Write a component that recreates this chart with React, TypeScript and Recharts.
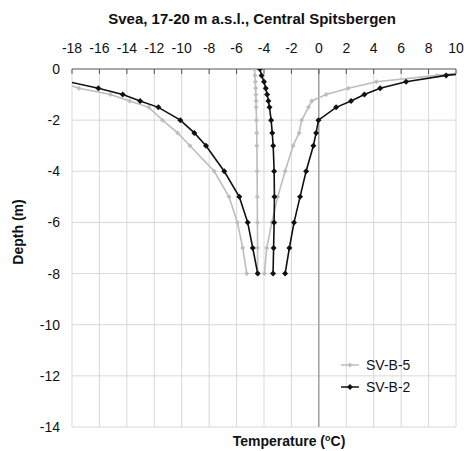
import { ScatterChart, Scatter, XAxis, YAxis, CartesianGrid, ReferenceLine } from "recharts";

// depth below surface (m), shared by every curve
const depths = [0, -0.25, -0.5, -0.75, -1, -1.25, -1.5, -2, -2.5, -3, -4, -5, -6, -7, -8];

// SV-B-5 (grey): min / mean / max ground temperature
const svb5Min = [null, null, -18.9, -17.5, -15.2, -13.8, -12.4, -11.4, -10.3, -9.4, -7.63, -6.55, -5.94, -5.55, -5.26];
const svb5Mean = [-4.7, -4.66, -4.63, -4.61, -4.59, -4.58, -4.57, -4.55, -4.53, -4.52, -4.5, -4.49, -4.48, -4.47, -4.47];
const svb5Max = [13, 8.6, 4.2, 2.15, 0.53, -0.52, -0.76, -1.25, -1.44, -1.88, -2.46, -3.0, -3.43, -3.8, -3.97];

// SV-B-2 (black)
const svb2Min = [null, null, -18.25, -16.08, -14.3, -13.03, -11.7, -10.1, -9.08, -8.23, -6.9, -5.8, -5.19, -4.82, -4.46];
const svb2Mean = [-4.3, -4.18, -4.0, -3.87, -3.77, -3.68, -3.6, -3.48, -3.4, -3.33, -3.26, -3.24, -3.26, -3.3, -3.34];
const svb2Max = [14, 9.28, 6.36, 4.47, 3.32, 2.35, 1.26, -0.03, -0.2, -0.4, -0.93, -1.37, -1.81, -2.15, -2.46];

const xTicks = [-18, -16, -14, -12, -10, -8, -6, -4, -2, 0, 2, 4, 6, 8, 10];
const yTicks = [0, -2, -4, -6, -8, -10, -12, -14];

const GREY = "#bdbdbd";
const BLACK = "#111";
const FONT = "'Liberation Sans', Arial, sans-serif";

const toPoints = (temps: (number | null)[]) =>
  depths
    .map((d, i) => ({ t: temps[i], d }))
    .filter((p) => p.t !== null);

const Diamond = (color: string, r: number) => (props: any) => {
  const { cx, cy } = props;
  if (cx == null || cy == null) return <g />;
  return (
    <path
      d={`M${cx},${cy - r}L${cx + r},${cy}L${cx},${cy + r}L${cx - r},${cy}Z`}
      fill={color}
      stroke="none"
    />
  );
};

function XTick(props: any) {
  const { x, payload } = props;
  return (
    <g>
      <line x1={x} x2={x} y1={69} y2={74} stroke="#555" />
      <text x={x} y={53} textAnchor="middle" fontSize={14} fill="#111" fontFamily={FONT}>
        {payload.value}
      </text>
    </g>
  );
}

function LegendBox() {
  const rows = [
    { name: "SV-B-5", color: GREY, r: 2.5 },
    { name: "SV-B-2", color: BLACK, r: 3 },
  ];
  return (
    <svg width={100} height={48}>
      {rows.map((row, i) => {
        const y = 10 + i * 22;
        return (
          <g key={row.name}>
            <line x1={6} x2={24} y1={y} y2={y} stroke={row.color} strokeWidth={1.5} />
            {Diamond(row.color, row.r)({ cx: 15, cy: y })}
            <text x={31} y={y + 5} fontSize={14} fill="#111" fontFamily={FONT}>
              {row.name}
            </text>
          </g>
        );
      })}
    </svg>
  );
}

const curves = [
  { key: "b5min", data: toPoints(svb5Min), color: GREY, r: 2.5 },
  { key: "b5mean", data: toPoints(svb5Mean), color: GREY, r: 2.5 },
  { key: "b5max", data: toPoints(svb5Max), color: GREY, r: 2.5 },
  { key: "b2min", data: toPoints(svb2Min), color: BLACK, r: 3 },
  { key: "b2mean", data: toPoints(svb2Mean), color: BLACK, r: 3 },
  { key: "b2max", data: toPoints(svb2Max), color: BLACK, r: 3 },
];

export default function App() {
  return (
    <div style={{ position: "absolute", left: 0, top: 0, width: 464, height: 451, background: "#fff", fontFamily: FONT }}>
      <ScatterChart width={464} height={451} margin={{ top: 0, right: 8, bottom: 24, left: 0 }}>
        <CartesianGrid stroke="#d9d9d9" />
        <XAxis
          type="number"
          dataKey="t"
          orientation="top"
          domain={[-18, 10]}
          ticks={xTicks}
          allowDataOverflow
          height={69}
          axisLine={{ stroke: "#666" }}
          tickLine={false}
          tick={<XTick />}
          interval={0}
        />
        <YAxis
          type="number"
          dataKey="d"
          domain={[-14, 0]}
          ticks={yTicks}
          allowDataOverflow
          width={72}
          axisLine={false}
          tickLine={false}
          tickSize={0}
          tickMargin={12}
          interval={0}
          tick={{ fontSize: 14, fill: "#111", fontFamily: FONT }}
        />
        <ReferenceLine x={0} stroke="#808080" strokeWidth={1} />
        {curves.map((c) => (
          <Scatter
            key={c.key}
            name={c.key}
            data={c.data}
            fill={c.color}
            line={{ stroke: c.color, strokeWidth: 1.6 }}
            lineType="joint"
            shape={Diamond(c.color, c.r)}
            isAnimationActive={false}
            legendType="none"
          />
        ))}
      </ScatterChart>
      <div style={{ position: "absolute", left: 335, top: 355 }}>
        <LegendBox />
      </div>
      <div style={{ position: "absolute", left: 52, top: 10, width: 400, textAlign: "center", fontSize: 15, fontWeight: "bold", lineHeight: "17px", color: "#111" }}>
        Svea, 17-20 m a.s.l., Central Spitsbergen
      </div>
      <div style={{ position: "absolute", left: 189, top: 433, width: 200, height: 16, textAlign: "center", fontSize: 14, fontWeight: "bold", lineHeight: "16px", color: "#111" }}>
        Temperature (<span style={{ fontSize: 9, position: "relative", top: -5 }}>o</span>C)
      </div>
      <div style={{ position: "absolute", left: -42, top: 224, width: 120, height: 16, textAlign: "center", fontSize: 14, fontWeight: "bold", lineHeight: "16px", color: "#111", transform: "rotate(-90deg)" }}>
        Depth (m)
      </div>
    </div>
  );
}
